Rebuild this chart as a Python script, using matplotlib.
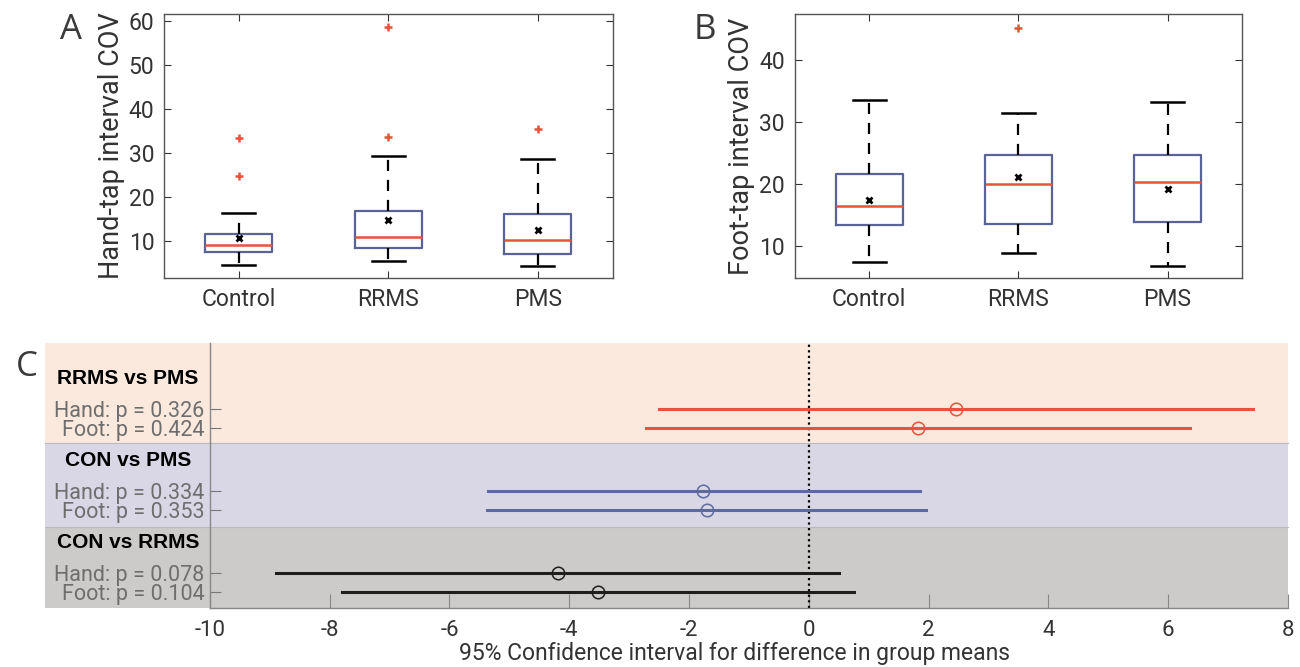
import numpy as np
import matplotlib
matplotlib.use('Agg')
import matplotlib.pyplot as plt
import matplotlib.transforms as mtransforms

plt.rcParams['font.family'] = ['Roboto', 'DejaVu Sans']
plt.rcParams['axes.unicode_minus'] = False

# --- Box plot summaries ---
groups = ['Control', 'RRMS', 'PMS']

hand_q1 = [7.6, 8.4, 7.1]
hand_med = [9.2, 11.1, 10.3]
hand_q3 = [11.6, 16.9, 16.3]
hand_lo = [4.6, 5.5, 4.4]
hand_hi = [16.4, 29.3, 28.7]
hand_mean = [10.7, 14.9, 12.6]
hand_out = [[33.4, 24.9], [58.6, 33.6], [35.5]]

foot_q1 = [13.4, 13.6, 13.8]
foot_med = [16.5, 20.0, 20.3]
foot_q3 = [21.6, 24.75, 24.75]
foot_lo = [7.4, 8.9, 6.8]
foot_hi = [33.5, 31.4, 33.2]
foot_mean = [17.5, 21.05, 19.2]
foot_out = [[], [45.2], []]

# --- Confidence intervals for differences in group means ---
comparisons = ['RRMS vs PMS', 'CON vs PMS', 'CON vs RRMS']
hand_p = ['0.326', '0.334', '0.078']
foot_p = ['0.424', '0.353', '0.104']
hand_ci_lo = [-2.5, -5.36, -8.89]
hand_ci_hi = [7.41, 1.85, 0.5]
hand_diff = [2.45, -1.77, -4.19]
foot_ci_lo = [-2.72, -5.37, -7.8]
foot_ci_hi = [6.36, 1.96, 0.76]
foot_diff = [1.82, -1.7, -3.52]

line_colors = ['#E8533A', '#5D6A9E', '#1E1E1E']
band_colors = ['#FBE9DE', '#D9D7E5', '#CCCBC9']

BOX_EDGE = '#5A6396'
MED_RED = '#E8533A'
TXT = '#333333'


def box_stats(q1, med, q3, lo, hi, mean, out):
    stats = []
    for i in range(len(q1)):
        stats.append(dict(q1=q1[i], med=med[i], q3=q3[i], whislo=lo[i],
                          whishi=hi[i], mean=mean[i], fliers=out[i]))
    return stats


def draw_box(ax, stats, ylabel, yticks, ylim):
    ax.bxp(stats, positions=[1, 2, 3], widths=0.45, capwidths=0.22,
           showmeans=True, showfliers=True,
           boxprops=dict(color=BOX_EDGE, linewidth=1.6),
           medianprops=dict(color=MED_RED, linewidth=1.8),
           whiskerprops=dict(color='black', linewidth=1.6, linestyle=(0, (5, 4))),
           capprops=dict(color='black', linewidth=1.8),
           meanprops=dict(marker='x', markeredgecolor='black', markersize=5,
                          markeredgewidth=2),
           flierprops=dict(marker='+', markeredgecolor=MED_RED, markersize=6,
                           markeredgewidth=1.8))
    ax.set_xlim(0.5, 3.5)
    ax.set_ylim(*ylim)
    ax.set_yticks(yticks)
    ax.set_xticks([1, 2, 3])
    ax.set_xticklabels(groups)
    ax.set_ylabel(ylabel, fontsize=19.5, color=TXT, labelpad=3)
    ax.tick_params(direction='in', length=5, labelsize=16.5, colors=TXT,
                   top=True, right=True, pad=7, width=0.8)
    for s in ax.spines.values():
        s.set_color('#555555')
        s.set_linewidth(1.0)


fig = plt.figure(figsize=(13, 6.67), dpi=100)

axA = fig.add_axes([0.1262, 0.5832, 0.3450, 0.3958])
draw_box(axA, box_stats(hand_q1, hand_med, hand_q3, hand_lo, hand_hi, hand_mean, hand_out),
         'Hand-tap interval COV', [10, 20, 30, 40, 50, 60], (1.7, 61.5))

axB = fig.add_axes([0.6112, 0.5832, 0.3443, 0.3958])
draw_box(axB, box_stats(foot_q1, foot_med, foot_q3, foot_lo, foot_hi, foot_mean, foot_out),
         'Foot-tap interval COV', [10, 20, 30, 40], (4.85, 47.4))

# --- Panel C ---
axC = fig.add_axes([0.1615, 0.0885, 0.8292, 0.3973])
n = len(comparisons)
hand_y = 3.3 + 4.1 * np.arange(n)
foot_y = hand_y + 0.97
band_edges = [0.0, 5.0, 9.2, 13.25]
mixed = mtransforms.blended_transform_factory(axC.transAxes, axC.transData)

left_frac = (45 - 210) / 1078
for i in range(n):
    axC.axhspan(band_edges[i], band_edges[i + 1], xmin=left_frac, xmax=1.0,
                facecolor=band_colors[i], edgecolor='none', clip_on=False, zorder=0)
    if i > 0:
        axC.plot([left_frac, 1.0], [band_edges[i]] * 2, color='#B8B8BE', lw=0.8,
                 transform=mixed, clip_on=False, zorder=0.5)

axC.axvline(0, color='black', linestyle=(0, (1, 1.5)), linewidth=1.6, zorder=2)

for i in range(n):
    c = line_colors[i]
    axC.plot([hand_ci_lo[i], hand_ci_hi[i]], [hand_y[i]] * 2, color=c, lw=2.2, zorder=3)
    axC.plot([foot_ci_lo[i], foot_ci_hi[i]], [foot_y[i]] * 2, color=c, lw=2.2, zorder=3)
    axC.plot([hand_diff[i], foot_diff[i]], [hand_y[i], foot_y[i]], linestyle='none',
             marker='o', markersize=9, markerfacecolor='none', markeredgecolor=c,
             markeredgewidth=1.1, zorder=4)
    axC.text(-0.076, hand_y[i] - 1.5, comparisons[i], transform=mixed,
             ha='center', va='center', fontsize=15, fontweight='bold', color='black',
             family=['Liberation Sans', 'DejaVu Sans'])

yt = np.concatenate([hand_y, foot_y])
ylab = ['Hand: p = ' + p for p in hand_p] + ['Foot: p = ' + p for p in foot_p]
axC.set_yticks(yt)
axC.set_yticklabels(ylab)
axC.set_ylim(13.25, 0)
axC.set_xlim(-10, 8)
axC.set_xticks(np.arange(-10, 9, 2))
axC.tick_params(axis='y', direction='in', length=8, labelsize=15.5, colors='#777777',
                labelcolor='#6E6E6E', pad=4, width=0.8)
axC.tick_params(axis='x', direction='in', length=10, labelsize=16, colors='#888888',
                labelcolor=TXT, pad=9, width=0.8)
axC.set_xlabel('95% Confidence interval for difference in group means', fontsize=16.5,
               color=TXT, labelpad=1)
axC.xaxis.set_label_coords(0.487, -0.13)
axC.patch.set_alpha(0)
for s in ['top', 'right']:
    axC.spines[s].set_visible(False)
for s in ['left', 'bottom']:
    axC.spines[s].set_color('#888888')
    axC.spines[s].set_linewidth(1.0)
    axC.spines[s].set_zorder(5)

# panel letters
for lbl, x, y in [('A', 0.055, 0.955), ('B', 0.542, 0.955), ('C', 0.021, 0.45)]:
    fig.text(x, y, lbl, fontsize=25, color='#3A3A3A', ha='center', va='center',
             family=['Open Sans', 'DejaVu Sans'])

fig.savefig('out.png', dpi=100)
